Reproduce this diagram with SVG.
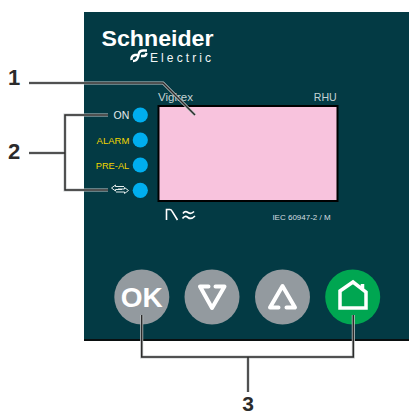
<svg xmlns="http://www.w3.org/2000/svg" width="409" height="415" viewBox="0 0 409 415">
<style>
.s{font-family:"Liberation Sans",Arial,sans-serif}
.num{font:bold 22px "Liberation Sans",Arial,sans-serif;fill:#2b2b2b;text-anchor:middle}
.led{fill:#00aeef}
.btn{fill:#939a9f}
.lbl{font-family:"Liberation Sans",Arial,sans-serif;text-anchor:end}
.halo{fill:none;stroke:#c4c8c9;stroke-width:3}
.ln{fill:none;stroke:#2a2a2a;stroke-width:1.5}
.ic{fill:none;stroke:#fff;stroke-width:4;stroke-linejoin:round;stroke-linecap:round}
</style>
<defs>
<path id="c1" d="M29 83H163L195 115"/>
<path id="c2" d="M29 153H65M108 115H65V190H108"/>
<path id="c3" d="M141.700 315V357H353.300V315M248 357V392"/>
</defs>
<rect width="409" height="415" fill="#fff"/>
<g id="panel">
<rect x="84" y="12" width="325" height="328" fill="#033a44"/>
<rect x="84" y="339" width="325" height="2" fill="#0a0f10"/>
</g>
<g id="logo">
<text x="101.500" y="46" class="s" font-size="21.500" font-weight="bold" fill="#fff" textLength="112" lengthAdjust="spacingAndGlyphs">Schneider</text>
<text x="150" y="61.500" class="s" font-size="12" fill="#f2f6f6" textLength="61" lengthAdjust="spacing">Electric</text>
<path d="M147 50.500H143Q140 50.500 139 53L138 57Q137 61 133 61M131.500 60Q131 56 135 55H138.500M141 56H144Q146 56 146.500 53" fill="none" stroke="#fff" stroke-width="2.400"/>
</g>
<g id="display">
<rect x="158.500" y="106" width="179" height="95" fill="#f8c3dd" stroke="#000" stroke-width="2"/>
<text x="158" y="100.700" class="s" font-size="11.200" fill="#c5d3d5" textLength="35" lengthAdjust="spacingAndGlyphs">Vigirex</text>
<text x="336.700" y="101" class="s" font-size="10.600" fill="#c5d3d5" text-anchor="end">RHU</text>
</g>
<g id="led-on"><text x="129.300" y="119" class="lbl" font-size="10.500" fill="#e4ecec">ON</text><circle cx="140.300" cy="115" r="7.600" class="led"/></g>
<g id="led-alarm"><text x="129.300" y="143.500" class="lbl" font-size="9.500" fill="#f2d500">ALARM</text><circle cx="140.300" cy="140" r="7.600" class="led"/></g>
<g id="led-preal"><text x="129.300" y="168.700" class="lbl" font-size="9.300" fill="#f2d500">PRE-AL</text><circle cx="140.300" cy="165" r="7.600" class="led"/></g>
<g id="led-comm">
<path d="M115.500 185L111.500 188L115.500 191V189.500H122M115.500 185V186.500H124M124.500 193.500L128.500 190.500L124.500 187.500V189H118M124.500 193.500V192H116" fill="none" stroke="#e4ecec" stroke-width="1"/>
<circle cx="140.300" cy="190.300" r="7.600" class="led"/>
</g>
<g id="symbols">
<path d="M166.500 220V209.500H170Q171.500 209.500 172.500 212L177.500 220" fill="none" stroke="#fff" stroke-width="1.600"/>
<path d="M183 213.500Q185 210.500 188 212.500T194 211.500M182.500 218.500Q185 215 188 217.500T195 216" fill="none" stroke="#fff" stroke-width="1.700"/>
<text x="301.500" y="220" class="s" font-size="8" fill="#d5dfe0" text-anchor="middle">IEC 60947-2 / M</text>
</g>
<g id="btn-ok"><circle cx="141.800" cy="297" r="27.500" class="btn"/><text x="141.800" y="307" class="s" font-size="28" font-weight="bold" fill="#fff" text-anchor="middle">OK</text></g>
<g id="btn-down"><circle cx="212" cy="297" r="27.500" class="btn"/><path d="M208.500 286.500H200L212 308L224.500 286.500H215.500" class="ic"/></g>
<g id="btn-up"><circle cx="282.500" cy="297" r="27.500" class="btn"/><path d="M278.500 307.500H270L282.500 286L295 307.500H286.500" class="ic"/></g>
<g id="btn-home"><circle cx="352.700" cy="297" r="27.500" fill="#00a651"/><path d="M340 308V291L353 282L366 292V308ZM362.500 289V284" fill="none" stroke="#fff" stroke-width="3.500"/></g>
<g id="connectors">
<use href="#c1" class="halo"/><use href="#c2" class="halo"/><use href="#c3" class="halo"/>
<use href="#c1" class="ln"/><use href="#c2" class="ln"/><use href="#c3" class="ln"/>
</g>
<g id="numbers">
<text x="14" y="85" class="num">1</text>
<text x="14" y="158.500" class="num">2</text>
<text x="248" y="410.500" class="num" style="font-size:21px">3</text>
</g>
</svg>
